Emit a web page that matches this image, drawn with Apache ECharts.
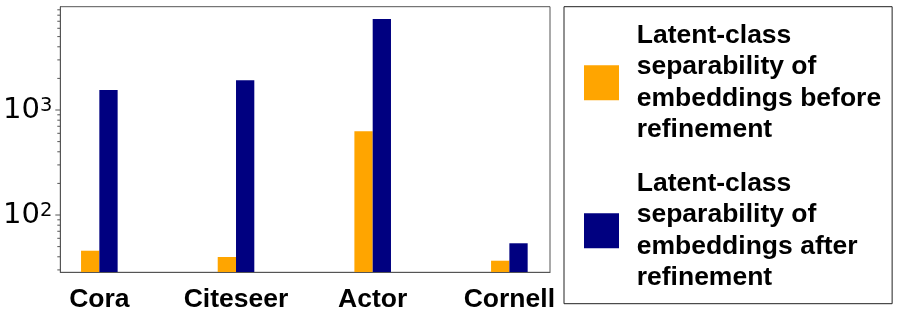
<!DOCTYPE html>
<html><head><meta charset="utf-8">
<script src="https://cdn.jsdelivr.net/npm/echarts@6/dist/echarts.min.js"></script>
<style>html,body{margin:0;padding:0;background:#fff}#c{width:897px;height:314px}</style>
</head><body><div id="c"></div>
<script>
const categories = ['Cora', 'Citeseer', 'Actor', 'Cornell'];
const beforeValues = [45.7, 39.8, 627, 36.7];
const afterValues = [1550, 1919, 7356, 53.8];
const seriesNames = [
  'Latent-class\nseparability of\nembeddings before\nrefinement',
  'Latent-class\nseparability of\nembeddings after\nrefinement'
];
const majorTickValues = [100, 1000];
const minorTickValues = [30, 40, 50, 60, 70, 80, 90, 200, 300, 400, 500, 600, 700, 800, 900, 2000, 3000, 4000, 5000, 6000, 7000, 8000, 9000];
const yMin = 28.47, yMax = 9634;

const frameColor = '#555';
const chart = echarts.init(document.getElementById('c'), null, {renderer: 'canvas'});

function tickSeries(values, len) {
  return {
    type: 'custom', xAxisIndex: 1, yAxisIndex: 1, silent: true, z: 6,
    data: values.map(v => [0, v]),
    renderItem: function (params, api) {
      const p = api.coord([0, api.value(1)]);
      return {type: 'line', shape: {x1: p[0] - len, y1: p[1], x2: p[0], y2: p[1]},
        style: {stroke: frameColor, lineWidth: 1}};
    }
  };
}

chart.setOption({
  animation: false,
  backgroundColor: '#fff',
  grid: [
    {left: 31, width: 546.7, top: 6.7, bottom: 41.7, show: false},
    {left: 58.3, right: 347, top: 6.7, bottom: 41.7, show: true, borderColor: frameColor, borderWidth: 1, backgroundColor: 'transparent'}
  ],
  xAxis: [
    {type: 'category', gridIndex: 0, data: categories,
      axisLine: {show: false}, axisTick: {show: false}, splitLine: {show: false},
      axisLabel: {margin: 14, color: '#000', fontSize: 26.5, fontWeight: 'bold', fontFamily: 'Liberation Sans, Arial, sans-serif'}},
    {type: 'value', gridIndex: 1, min: 0, max: 1, z: 5,
      axisLine: {show: true, lineStyle: {color: frameColor, width: 1}},
      axisTick: {show: false}, axisLabel: {show: false}, splitLine: {show: false}}
  ],
  yAxis: [
    {type: 'log', gridIndex: 0, min: yMin, max: yMax, show: false, splitLine: {show: false}},
    {type: 'log', gridIndex: 1, min: yMin, max: yMax, z: 5,
      axisLine: {show: true, lineStyle: {color: frameColor, width: 1}},
      axisTick: {show: false}, splitLine: {show: false},
      axisLabel: {
        margin: 8, showMinLabel: false, showMaxLabel: false,
        formatter: function (v) {
          const e = Math.log10(v);
          const r = Math.round(e);
          if (Math.abs(e - r) > 1e-6) return '';
          return '{b|10}{s|' + r + '}';
        },
        rich: {
          b: {fontSize: 29, lineHeight: 29, fontFamily: 'DejaVu Sans', color: '#000'},
          s: {fontSize: 19.5, lineHeight: 14.5, verticalAlign: 'top', fontFamily: 'DejaVu Sans', color: '#000'}
        }
      }}
  ],
  legend: {
    orient: 'vertical', left: 564, top: 6.7,
    padding: [13, 11, 10, 20],
    itemWidth: 35, itemHeight: 35, itemGap: 22,
    icon: 'rect',
    borderColor: '#222', borderWidth: 1, borderRadius: 0,
    data: seriesNames,
    textStyle: {fontSize: 26.5, lineHeight: 31.5, fontWeight: 'bold', color: '#000',
      fontFamily: 'Liberation Sans, Arial, sans-serif', padding: [0, 0, 0, 12.7]}
  },
  series: [
    {name: seriesNames[0], type: 'bar', xAxisIndex: 0, yAxisIndex: 0, data: beforeValues,
      barWidth: 18.3, barGap: '0%', clip: true, itemStyle: {color: '#FFA500'}},
    {name: seriesNames[1], type: 'bar', xAxisIndex: 0, yAxisIndex: 0, data: afterValues,
      barWidth: 18.3, barGap: '0%', clip: true, itemStyle: {color: '#000080'}},
    tickSeries(majorTickValues, 5),
    tickSeries(minorTickValues, 3)
  ]
});
</script>
</body></html>
